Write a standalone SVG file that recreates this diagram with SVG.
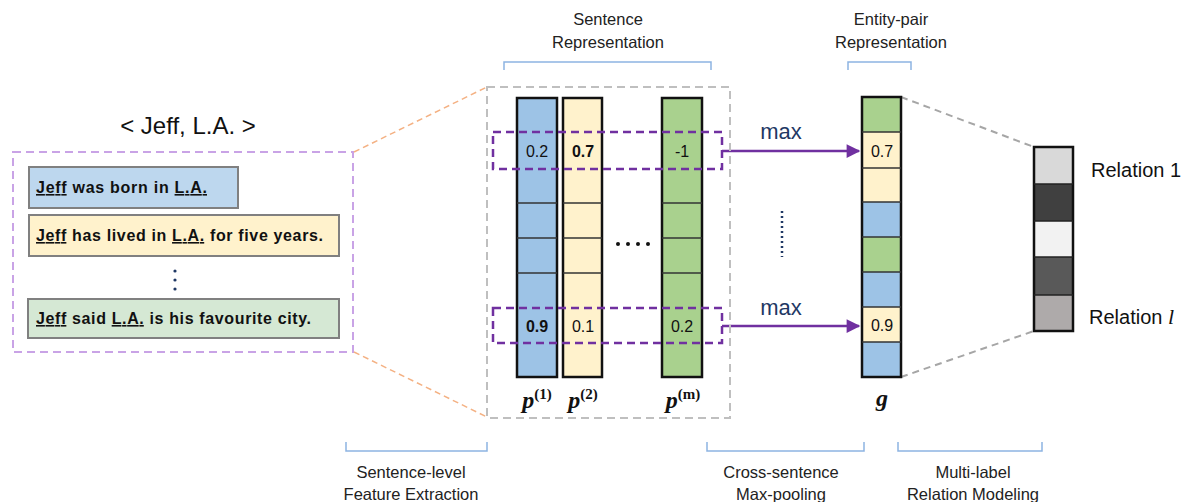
<svg xmlns="http://www.w3.org/2000/svg" width="1188" height="502" viewBox="0 0 1188 502">
<defs>
<style>
text{font-family:"Liberation Sans",Arial,sans-serif;fill:#111}
.lbl{font-size:16.5px;text-anchor:middle;fill:#222}
.sent{font-size:16px;font-weight:600}
.ent{font-weight:bold;text-decoration:underline}
.cell{stroke:#111;stroke-width:2.5}
.div{stroke:#333;stroke-width:1.5}
.num{font-size:16px;text-anchor:middle}
.b{fill:#9DC3E6}.y{fill:#FFF2CC}.g{fill:#A9D18E}
.brk{fill:none;stroke:#8DB4E2;stroke-width:1.5}
.pmath{font-family:"Liberation Serif","DejaVu Serif",serif;font-weight:bold;font-style:italic;font-size:24px;text-anchor:middle}
.sup{font-size:15px;font-style:normal}
.maxt{font-size:22px;fill:#1F3864;text-anchor:middle}
.arr{stroke:#7030A0;stroke-width:2.5;fill:none;marker-end:url(#ah)}
.pbox{fill:none;stroke:#7030A0;stroke-width:2.5;stroke-dasharray:8,5}
</style>
<marker id="ah" viewBox="0 0 10 10" refX="9" refY="5" markerWidth="6" markerHeight="5.5" orient="auto" markerUnits="strokeWidth">
<path d="M0,0 L10,5 L0,10 z" fill="#7030A0"/>
</marker>
</defs>

<!-- title -->
<g id="pair-title"><text x="188" y="134" font-size="24" text-anchor="middle">&lt; Jeff, L.A. &gt;</text></g>

<!-- sentence bag -->
<g id="sentence-bag">
<rect x="13" y="152" width="340" height="200" fill="none" stroke="#C9A3E6" stroke-width="2" stroke-dasharray="8,5"/>
<rect x="29" y="167" width="209" height="41" fill="#BDD7EE" stroke="#808080" stroke-width="2"/>
<text class="sent" x="36" y="193" textLength="171" lengthAdjust="spacing"><tspan class="ent">Jeff</tspan> was born in <tspan class="ent">L.A.</tspan></text>
<rect x="29" y="215" width="310" height="41" fill="#FFF2CC" stroke="#808080" stroke-width="2"/>
<text class="sent" x="36" y="241" textLength="287" lengthAdjust="spacing"><tspan class="ent">Jeff</tspan> has lived in <tspan class="ent">L.A.</tspan> for five years.</text>
<circle cx="175" cy="271" r="1.6" fill="#1F3864"/>
<circle cx="175" cy="280" r="1.6" fill="#1F3864"/>
<circle cx="175" cy="289" r="1.6" fill="#1F3864"/>
<rect x="28" y="299" width="311" height="39" fill="#D5E8D4" stroke="#808080" stroke-width="2"/>
<text class="sent" x="36" y="324" textLength="275" lengthAdjust="spacing"><tspan class="ent">Jeff</tspan> said <tspan class="ent">L.A.</tspan> is his favourite city.</text>
</g>

<!-- connectors -->
<g id="connectors">
<line x1="354" y1="152" x2="487" y2="87" stroke="#F4B183" stroke-width="1.5" stroke-dasharray="6,4"/>
<line x1="354" y1="352" x2="487" y2="417" stroke="#F4B183" stroke-width="1.5" stroke-dasharray="6,4"/>
<line x1="901" y1="97" x2="1034" y2="147" stroke="#A6A6A6" stroke-width="2" stroke-dasharray="7,5"/>
<line x1="901" y1="377" x2="1034" y2="331" stroke="#A6A6A6" stroke-width="2" stroke-dasharray="7,5"/>
<polyline class="arr" points="722,151 740,151 859,151"/>
<polyline class="arr" points="722,326 740,326 859,326"/>
<text class="maxt" x="781" y="139">max</text>
<text class="maxt" x="781" y="315">max</text>
<line x1="782" y1="211" x2="782" y2="257" stroke="#1F3864" stroke-width="2.5" stroke-dasharray="2,3"/>
</g>

<!-- sentence representation box -->
<g id="sentence-representation">
<rect x="487" y="87" width="243" height="331" fill="none" stroke="#BFBFBF" stroke-width="2" stroke-dasharray="8,5"/>
<rect x="517" y="98" width="40" height="279" class="cell b"/>
<line class="div" x1="517" y1="203" x2="557" y2="203"/><line class="div" x1="517" y1="238" x2="557" y2="238"/><line class="div" x1="517" y1="273" x2="557" y2="273"/>
<rect x="563" y="98" width="39" height="279" class="cell y"/>
<line class="div" x1="563" y1="203" x2="602" y2="203"/><line class="div" x1="563" y1="238" x2="602" y2="238"/><line class="div" x1="563" y1="273" x2="602" y2="273"/>
<rect x="662" y="98" width="40" height="279" class="cell g"/>
<line class="div" x1="662" y1="203" x2="702" y2="203"/><line class="div" x1="662" y1="238" x2="702" y2="238"/><line class="div" x1="662" y1="273" x2="702" y2="273"/>
<text class="num" x="537" y="157">0.2</text>
<text class="num" x="583" y="157" font-weight="bold">0.7</text>
<text class="num" x="682" y="157">-1</text>
<text class="num" x="537" y="332" font-weight="bold">0.9</text>
<text class="num" x="583" y="332">0.1</text>
<text class="num" x="682" y="332">0.2</text>
<circle cx="618" cy="244" r="2" fill="#111"/><circle cx="628" cy="244" r="2" fill="#111"/><circle cx="638" cy="244" r="2" fill="#111"/><circle cx="648" cy="244" r="2" fill="#111"/>
<rect class="pbox" x="493" y="132" width="229" height="37"/>
<rect class="pbox" x="493" y="308" width="229" height="35"/>
<text class="pmath" x="537" y="408">p<tspan class="sup" dy="-9">(1)</tspan></text>
<text class="pmath" x="583" y="408">p<tspan class="sup" dy="-9">(2)</tspan></text>
<text class="pmath" x="683" y="408">p<tspan class="sup" dy="-9">(m)</tspan></text>
</g>

<!-- entity pair representation -->
<g id="entity-pair-representation">
<rect x="862" y="97" width="39" height="35" class="g"/>
<rect x="862" y="132" width="39" height="36" class="y"/>
<rect x="862" y="168" width="39" height="34" class="y"/>
<rect x="862" y="202" width="39" height="35" class="b"/>
<rect x="862" y="237" width="39" height="35" class="g"/>
<rect x="862" y="272" width="39" height="35" class="b"/>
<rect x="862" y="307" width="39" height="35" class="y"/>
<rect x="862" y="342" width="39" height="35" class="b"/>
<rect x="862" y="97" width="39" height="280" fill="none" stroke="#111" stroke-width="2.5"/>
<g class="div" stroke-width="2.5"><line x1="862" y1="132" x2="901" y2="132"/><line x1="862" y1="168" x2="901" y2="168"/><line x1="862" y1="202" x2="901" y2="202"/><line x1="862" y1="237" x2="901" y2="237"/><line x1="862" y1="272" x2="901" y2="272"/><line x1="862" y1="307" x2="901" y2="307"/><line x1="862" y1="342" x2="901" y2="342"/></g>
<text class="num" x="882" y="157">0.7</text>
<text class="num" x="882" y="331">0.9</text>
<text class="pmath" x="882" y="406">g</text>
</g>

<!-- relation vector -->
<g id="relation-vector">
<rect x="1034" y="147" width="39" height="37" fill="#D9D9D9"/>
<rect x="1034" y="184" width="39" height="37" fill="#404040"/>
<rect x="1034" y="221" width="39" height="36" fill="#F2F2F2"/>
<rect x="1034" y="257" width="39" height="38" fill="#595959"/>
<rect x="1034" y="295" width="39" height="36" fill="#AEAAAA"/>
<rect x="1034" y="147" width="39" height="184" fill="none" stroke="#111" stroke-width="2.5"/>
<g stroke="#222" stroke-width="1.5"><line x1="1034" y1="184" x2="1073" y2="184"/><line x1="1034" y1="221" x2="1073" y2="221"/><line x1="1034" y1="257" x2="1073" y2="257"/><line x1="1034" y1="295" x2="1073" y2="295"/></g>
<text x="1091" y="177" font-size="20">Relation 1</text>
<text x="1089" y="324" font-size="20">Relation <tspan font-family="Liberation Serif,serif" font-style="italic" font-size="22">l</tspan></text>
</g>

<!-- brackets and stage labels -->
<g id="label-sentence-representation">
<path class="brk" d="M504,70 V62 H711 V70"/>
<text class="lbl" x="608" y="25">Sentence</text>
<text class="lbl" x="608" y="48">Representation</text>
</g>
<g id="label-entity-pair">
<path class="brk" d="M848,70 V62 H911 V70"/>
<text class="lbl" x="891" y="25">Entity-pair</text>
<text class="lbl" x="891" y="48">Representation</text>
</g>
<g id="label-sentence-level">
<path class="brk" d="M346,442 V451 H487 V442"/>
<text class="lbl" x="411" y="478">Sentence-level</text>
<text class="lbl" x="411" y="500">Feature Extraction</text>
</g>
<g id="label-cross-sentence">
<path class="brk" d="M707,442 V451 H864 V442"/>
<text class="lbl" x="781" y="478">Cross-sentence</text>
<text class="lbl" x="781" y="500">Max-pooling</text>
</g>
<g id="label-multi-label">
<path class="brk" d="M898,442 V451 H1042 V442"/>
<text class="lbl" x="973" y="478">Multi-label</text>
<text class="lbl" x="973" y="500">Relation Modeling</text>
</g>
</svg>
